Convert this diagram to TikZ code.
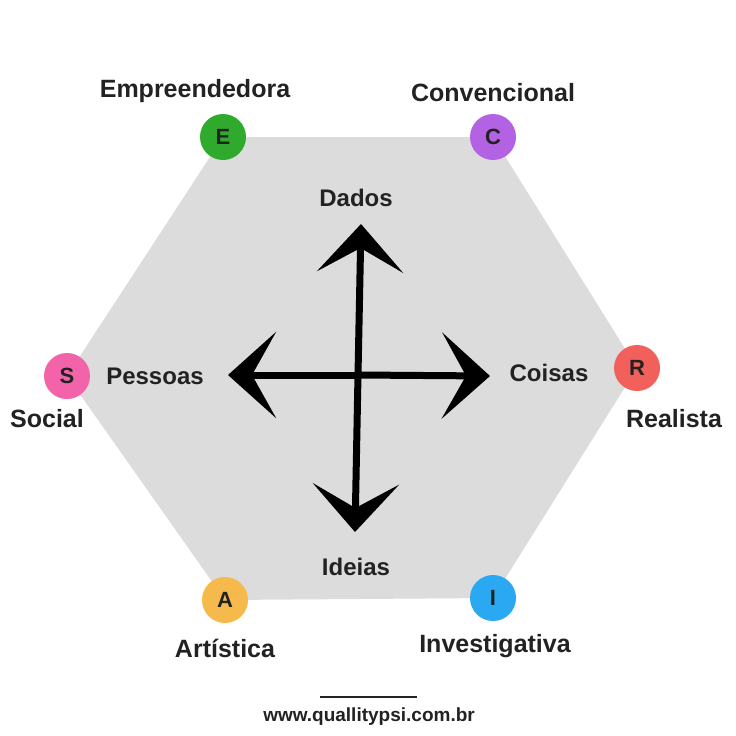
\documentclass[tikz,border=0pt]{standalone}
\usepackage{fontspec}
\setmainfont{Liberation Sans}
\usetikzlibrary{arrows.meta}
\definecolor{hexgray}{HTML}{DCDCDC}
\definecolor{colE}{HTML}{2FAA2C}
\definecolor{colC}{HTML}{B262E3}
\definecolor{colR}{HTML}{F2605C}
\definecolor{colI}{HTML}{2AA9F2}
\definecolor{colA}{HTML}{F6B94B}
\definecolor{colS}{HTML}{F263AA}
\definecolor{ink}{HTML}{222222}
\tikzset{
  % node options
  corner/.style={circle,minimum size=46pt,inner sep=0pt,text=ink,font=\fontsize{22}{22}\selectfont\bfseries},
  type/.style={text=ink,font=\fontsize{25}{25}\selectfont\bfseries},
  axis/.style={text=ink,font=\fontsize{24}{24}\selectfont\bfseries},
  % path options
  dir/.style={line width=7pt,-{Stealth[length=48pt,width=86pt,inset=24pt]}},
}
\begin{document}
\begin{tikzpicture}[x=1pt,y=-1pt]
  \useasboundingbox (0,0) rectangle (736,736);
  \fill[white] (0,0) rectangle (736,736);
  \coordinate (vE) at (223,137);
  \coordinate (vC) at (493,137);
  \coordinate (vR) at (637,368);
  \coordinate (vI) at (493,598);
  \coordinate (vA) at (225,600);
  \coordinate (vS) at (67,376);
  \fill[hexgray] (vE) -- (vC) -- (vR) -- (vI) -- (vA) -- (vS) -- cycle;
  \node[corner,fill=colE] (E) at (vE) {E};
  \node[corner,fill=colC] (C) at (vC) {C};
  \node[corner,fill=colR] (R) at (vR) {R};
  \node[corner,fill=colI] (I) at (vI) {I};
  \node[corner,fill=colA] (A) at (vA) {A};
  \node[corner,fill=colS] (S) at (vS) {S};
  \node[type] (Emp) at (195,91) {Empreendedora};
  \node[type] (Conv) at (493,93) {Convencional};
  \node[type] (Real) at (674,419) {Realista};
  \node[type] (Inv) at (495,646) {Investigativa};
  \node[type] (Art) at (225,648) {Artística};
  \node[type] (Soc) at (47,419) {Social};
  \coordinate (mid) at (358,375);
  \node[axis] (Dados) at (356,198) {Dados};
  \node[axis] (Ideias) at (356,567) {Ideias};
  \node[axis] (Pessoas) at (155,376) {Pessoas};
  \node[axis] (Coisas) at (549,373) {Coisas};
  \coordinate (top) at (361,224);
  \coordinate (bot) at (355,532);
  \coordinate (lft) at (228,375);
  \coordinate (rgt) at (490,376);
  \draw[dir] (mid) -- (top);
  \draw[dir] (mid) -- (bot);
  \draw[dir] (mid) -- (lft);
  \draw[dir] (mid) -- (rgt);
  \draw[ink,line width=2.5pt] (320,697) -- (417,697);
  \node[text=ink,font=\fontsize{19}{19}\selectfont\bfseries] (web) at (369,717) {www.quallitypsi.com.br};
\end{tikzpicture}
\end{document}
